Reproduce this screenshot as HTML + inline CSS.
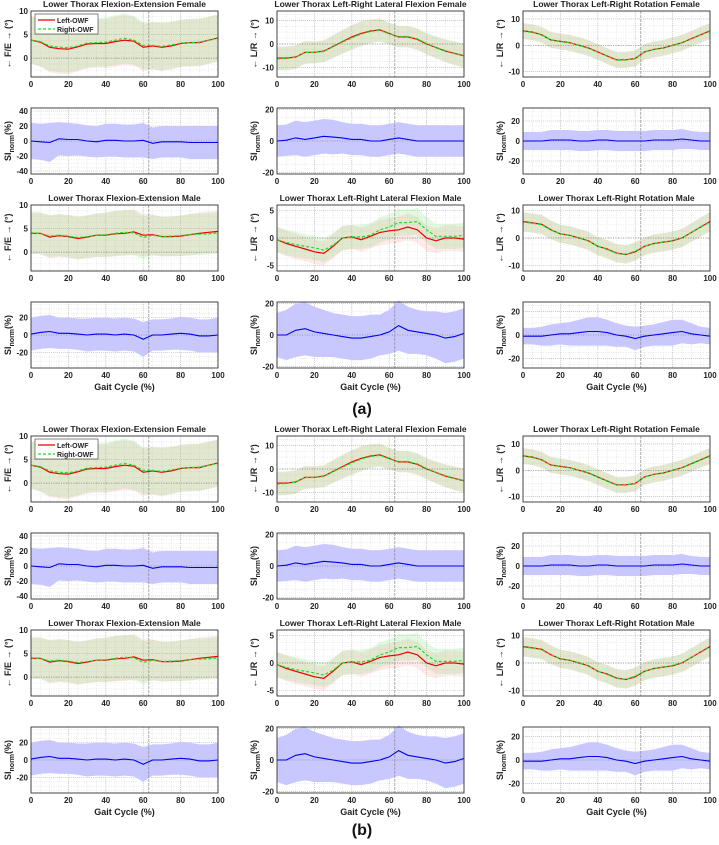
<!DOCTYPE html>
<html><head><meta charset="utf-8"><style>
body{margin:0;background:#fff;}
svg{display:block;font-family:"Liberation Sans",Arial,sans-serif;}
</style></head><body>
<svg id="fig" width="719" height="845" viewBox="0 0 719 845"></svg>
<script>
// x samples (gait cycle %)
const gait = [0,5,10,15,20,25,30,35,40,45,50,55,60,65,70,75,80,85,90,95,100];
// Row 1 (Female angles)
const feFemaleLeft  = [3.8,3.4,2.3,2.0,1.9,2.4,3.0,3.1,3.1,3.5,3.8,3.6,2.3,2.6,2.3,2.6,3.1,3.3,3.3,3.8,4.3];
const feFemaleRight = [3.8,3.5,2.6,2.3,2.2,2.6,3.2,3.3,3.4,3.8,4.2,3.8,2.7,2.7,2.5,2.8,3.2,3.3,3.4,3.8,4.2];
const feFemaleSd    = [5.0,5.2,5.3,5.3,5.3,5.2,5.2,5.1,5.2,5.3,5.3,5.2,5.0,5.0,5.1,5.0,5.0,5.0,5.0,5.0,5.0];
const lrFemaleLeft  = [-6,-6,-5.5,-3.5,-3.5,-3,-1,1,3,4.5,5.5,6,4.5,3,3,2,0,-1.5,-3,-4,-5];
const lrFemaleRight = [-6.3,-6.2,-5.6,-3.6,-3.6,-3.2,-1.2,0.8,2.6,4.2,5.3,5.8,4.3,3.2,3.2,2.2,0.2,-1.4,-2.8,-3.9,-4.9];
const lrFemaleSd    = [5,5,5,4.8,4.6,4.6,4.8,5,5.2,5.2,5,4.8,4.6,4.5,4.5,4.5,4.5,4.6,4.8,5,5];
const rotFemaleLeft  = [5.5,5,4,2,1.5,1,0,-1,-2.5,-4,-5.5,-5.5,-5,-2.5,-1.5,-1,0,1,2.5,4,5.5];
const rotFemaleRight = [5.3,4.9,3.9,2,1.4,0.9,0,-1.1,-2.6,-4.1,-5.6,-5.6,-4.9,-2.5,-1.6,-1,0,1,2.4,3.9,5.3];
const rotFemaleSd    = [3,3,3,3,3,3,3,3,3,3,3,3,3,3,3,3,3,3,3,3,3];
// Row 2 (Female SI)
const siFeFemale  = [0,-1,-2,3,2,2,0,-1,1,1,0,0,1,-3,-1,-1,-1,-2,-2,-2,-2];
const siFeFemaleSd = [24,24,26,22,22,21,21,21,22,22,22,22,23,21,21,21,21,22,22,22,22];
const siLrFemale  = [0,0.5,2,1,2,3,2.5,2,1,1,0,0,1,2,1,0,0,0,0,0,0];
const siLrFemaleSd = [10,10,11,11,11,11,11,10,10,10,10,10,10,10,10,10,10,10,10,10,10];
const siRotFemale  = [0,0,0,1,1,1,0,0,1,1,0,0,0,0,1,1,1,2,1,0,0];
const siRotFemaleSd = [9,9,9,10,10,10,10,10,10,10,10,10,10,10,10,10,10,10,9,9,9];
// Row 3 (Male angles)
const feMaleLeft  = [4,4,3.2,3.5,3.3,2.9,3.2,3.6,3.6,3.9,4.0,4.3,3.6,3.7,3.3,3.3,3.4,3.7,4.0,4.2,4.4];
const feMaleRight = [4.1,4,3.4,3.6,3.4,3.1,3.3,3.6,3.7,4.0,4.2,4.1,3.1,3.6,3.3,3.4,3.5,3.7,3.8,3.9,4.1];
const feMaleSd    = [4.4,4.4,4.5,4.5,4.5,4.5,4.5,4.6,4.7,4.8,4.8,4.8,4.5,4.3,4.2,4.2,4.3,4.4,4.4,4.4,4.4];
const lrMaleLeft  = [-0.3,-1,-1.5,-2,-2.5,-2.8,-1.5,0,0.2,-0.3,0.3,1,1.3,1.5,2,1.5,0,-0.5,0,0,-0.2];
const lrMaleRight = [-0.3,-0.8,-1.2,-1.5,-1.8,-2.2,-1.3,0,0.2,0.2,0.5,1.5,2,2.8,2.8,3,1.5,0.3,0.3,0.3,0.5];
const lrMaleSd    = [2.3,2.3,2.3,2.2,2.2,2.2,2.2,2.2,2.2,2.2,2.2,2.3,2.3,2.4,2.4,2.4,2.3,2.3,2.3,2.3,2.3];
const rotMaleLeft  = [6,5.5,5,3,1.5,1,0,-1,-3,-4,-5.5,-6,-5,-3,-2,-1.5,-1,0,2,4,6];
const rotMaleRight = [5.8,5.4,4.8,2.9,1.5,1,0,-1.1,-3,-4.1,-5.6,-6,-4.8,-3,-2,-1.5,-0.9,0.1,2,3.9,5.8];
const rotMaleSd    = [3.5,3.5,3.5,3.4,3.3,3.3,3.3,3.3,3.3,3.3,3.3,3.3,3.3,3.3,3.3,3.3,3.3,3.3,3.4,3.5,3.5];
// Row 4 (Male SI)
const siFeMale  = [1,3,4,2,2,1,0,1,1,0,1,0,-5,0,0,1,2,1,-1,-1,0];
const siFeMaleSd = [19,19,19,18,18,18,19,19,19,19,19,19,20,18,18,18,19,19,19,19,20];
const siLrMale  = [0,0,3,4,2,1,0,-1,-2,-2,-1,0,2,6,3,2,1,0,-2,-1,1];
const siLrMaleSd = [14,16,17,17,16,15,14,14,14,14,14,13,14,16,15,14,14,15,16,16,16];
const siRotMale  = [-1,-1,-1,0,1,1,2,3,3,2,0,-1,-3,-1,0,1,2,3,1,0,-1];
const siRotMaleSd = [7,7,8,9,9,10,11,12,12,11,10,9,10,9,9,10,11,10,9,7,7];
// Axis tick labels
const xTicks = [0,20,40,60,80,100];
const titles = ["Lower Thorax Flexion-Extension Female","Lower Thorax Left-Right Lateral Flexion Female","Lower Thorax Left-Right Rotation Female","Lower Thorax Flexion-Extension Male","Lower Thorax Left-Right Lateral Flexion Male","Lower Thorax Left-Right Rotation Male"];
const panelLabels = ["(a)","(b)"];

const NS = "http://www.w3.org/2000/svg";
const svg = document.getElementById("fig");
function mk(tag, attrs, parent){const e=document.createElementNS(NS,tag);for(const k in attrs)e.setAttribute(k,attrs[k]);(parent||svg).appendChild(e);return e;}

const colX=[31,277,523], W=187, H=66;
const rowY=[11,108,205,302], panelOff=[0,425];

const plots = [
 {row:0,col:0,type:"ang",L:feFemaleLeft,R:feFemaleRight,sd:feFemaleSd,ylim:[-4,10],yt:[0,5,10],ylab:"F/E",title:titles[0],legend:true},
 {row:0,col:1,type:"ang",L:lrFemaleLeft,R:lrFemaleRight,sd:lrFemaleSd,ylim:[-14,14],yt:[-10,0,10],ylab:"L/R",title:titles[1]},
 {row:0,col:2,type:"ang",L:rotFemaleLeft,R:rotFemaleRight,sd:rotFemaleSd,ylim:[-12,13],yt:[-10,0,10],ylab:"L/R",title:titles[2]},
 {row:1,col:0,type:"si",M:siFeFemale,sd:siFeFemaleSd,ylim:[-44,44],yt:[-40,-20,0,20,40]},
 {row:1,col:1,type:"si",M:siLrFemale,sd:siLrFemaleSd,ylim:[-21,21],yt:[-20,0,20]},
 {row:1,col:2,type:"si",M:siRotFemale,sd:siRotFemaleSd,ylim:[-33,33],yt:[-20,0,20]},
 {row:2,col:0,type:"ang",L:feMaleLeft,R:feMaleRight,sd:feMaleSd,ylim:[-4,10],yt:[0,5,10],ylab:"F/E",title:titles[3]},
 {row:2,col:1,type:"ang",L:lrMaleLeft,R:lrMaleRight,sd:lrMaleSd,ylim:[-6,6],yt:[-5,0,5],ylab:"L/R",title:titles[4]},
 {row:2,col:2,type:"ang",L:rotMaleLeft,R:rotMaleRight,sd:rotMaleSd,ylim:[-12,12],yt:[-10,0,10],ylab:"L/R",title:titles[5]},
 {row:3,col:0,type:"si",M:siFeMale,sd:siFeMaleSd,ylim:[-38,38],yt:[-20,0,20]},
 {row:3,col:1,type:"si",M:siLrMale,sd:siLrMaleSd,ylim:[-21,21],yt:[-20,0,20]},
 {row:3,col:2,type:"si",M:siRotMale,sd:siRotMaleSd,ylim:[-28,28],yt:[-20,0,20]},
];

function line(xs,ys,sx,sy){return xs.map((x,i)=>(i?"L":"M")+sx(x).toFixed(1)+","+sy(ys[i]).toFixed(1)).join("");}
function band(xs,m,s,sx,sy){let d=xs.map((x,i)=>(i?"L":"M")+sx(x).toFixed(1)+","+sy(m[i]+s[i]).toFixed(1)).join("");for(let i=xs.length-1;i>=0;i--)d+="L"+sx(xs[i]).toFixed(1)+","+sy(m[i]-s[i]).toFixed(1);return d+"Z";}

panelOff.forEach((off,pi)=>{
 const pg=mk("g",{});
 
 
 plots.forEach((p,k)=>{
  const x0=colX[p.col], y0=rowY[p.row]+off;
  const sx=v=>x0+v/100*W;
  const sy=v=>y0+H-(v-p.ylim[0])/(p.ylim[1]-p.ylim[0])*H;
  const g=mk("g",{},pg);
  
  
  mk("rect",{x:x0,y:y0,width:W,height:H,fill:"#fff"},g);
  for(let v=0;v<=100;v+=5){mk("line",{x1:sx(v),x2:sx(v),y1:y0,y2:y0+H,stroke:"#ddd","stroke-width":0.6,"stroke-dasharray":"1,1.5"},g);}
  const step=(p.yt[1]-p.yt[0])/4;
  for(let v=Math.ceil(p.ylim[0]/step)*step;v<=p.ylim[1];v+=step){mk("line",{x1:x0,x2:x0+W,y1:sy(v),y2:sy(v),stroke:"#ddd","stroke-width":0.6,"stroke-dasharray":"1,1.5"},g);}
  xTicks.forEach(v=>mk("line",{x1:sx(v),x2:sx(v),y1:y0,y2:y0+H,stroke:"#bbb","stroke-width":0.6,"stroke-dasharray":"1,1"},g));
  p.yt.forEach(v=>mk("line",{x1:x0,x2:x0+W,y1:sy(v),y2:sy(v),stroke:"#bbb","stroke-width":0.6,"stroke-dasharray":"1,1"},g));
  if(p.type==="ang"){
   const bl=mk("path",{d:band(gait,p.L,p.sd,sx,sy),fill:"#ff9090","fill-opacity":0.2},g);
   
   
   const br=mk("path",{d:band(gait,p.R,p.sd,sx,sy),fill:"#70e070","fill-opacity":0.2},g);
   
   
  } else {
   const bs=mk("path",{d:band(gait,p.M,p.sd,sx,sy),fill:"#c8c8ff"},g);
   
   
  }
  mk("line",{x1:x0,x2:x0+W,y1:sy(0),y2:sy(0),stroke:"#888","stroke-width":0.7,"stroke-dasharray":"1,1.5"},g);
  mk("line",{x1:sx(63),x2:sx(63),y1:y0,y2:y0+H,stroke:"#888","stroke-width":0.7,"stroke-dasharray":"3,1"},g);
  if(p.type==="ang"){
   const l=mk("path",{d:line(gait,p.L,sx,sy),fill:"none",stroke:"#ee0000","stroke-width":1.2},g);
   
   
   const r=mk("path",{d:line(gait,p.R,sx,sy),fill:"none",stroke:"#22dd22","stroke-width":1.2,"stroke-dasharray":"3,2"},g);
   
   
  } else {
   const m=mk("path",{d:line(gait,p.M,sx,sy),fill:"none",stroke:"#0000ee","stroke-width":1.1},g);
   
   
  }
  mk("rect",{x:x0,y:y0,width:W,height:H,fill:"none",stroke:"#333","stroke-width":0.9},g);
  xTicks.forEach(v=>{const t=mk("text",{x:sx(v),y:y0+H+10,"font-size":8,"font-weight":"bold","text-anchor":"middle",fill:"#222"},g);t.textContent=v;
   });
  p.yt.forEach(v=>{const t=mk("text",{x:x0-3,y:sy(v)+3,"font-size":8,"font-weight":"bold","text-anchor":"end",fill:"#222"},g);t.textContent=v;
   });
  const cy=y0+H/2, lx=x0-20;
  const yl=mk("text",{x:lx,y:cy,"font-size":9,"font-weight":"bold","text-anchor":"middle",fill:"#222",transform:`rotate(-90 ${lx} ${cy})`},g);
  if(p.type==="ang"){yl.textContent="\u2190 "+p.ylab+" \u2192 (\u00b0)";}
  else{yl.textContent="SI";const ts=mk("tspan",{"font-size":7,dy:3},yl);ts.textContent="norm";const ts2=mk("tspan",{dy:-3},yl);ts2.textContent="(%)";}
  
  
  if(p.title){const t=mk("text",{x:x0+W/2,y:y0-4,"font-size":8.5,"font-weight":"bold","text-anchor":"middle",fill:"#222"},g);t.textContent=p.title;
   }
  if(p.row===3){const t=mk("text",{x:x0+W/2,y:y0+H+22,"font-size":9,"font-weight":"bold","text-anchor":"middle",fill:"#222"},g);t.textContent="Gait Cycle (%)";
   }
  if(p.legend){
   const lg=mk("g",{},g);
   
   
   mk("rect",{x:x0+4,y:y0+3,width:63,height:20,fill:"#fff",stroke:"#333","stroke-width":0.6},lg);
   mk("line",{x1:x0+7,x2:x0+24,y1:y0+9,y2:y0+9,stroke:"#ee0000","stroke-width":1.2},lg);
   mk("line",{x1:x0+7,x2:x0+24,y1:y0+18,y2:y0+18,stroke:"#22dd22","stroke-width":1.2,"stroke-dasharray":"3,2"},lg);
   const a=mk("text",{x:x0+26,y:y0+12,"font-size":7,"font-weight":"bold",fill:"#222"},lg);a.textContent="Left-OWF";
   
   const b=mk("text",{x:x0+26,y:y0+21,"font-size":7,"font-weight":"bold",fill:"#222"},lg);b.textContent="Right-OWF";
   
  }
 });
 const pl=mk("text",{x:362,y:414+off*0.99,"font-size":16,"font-weight":"bold","text-anchor":"middle",fill:"#111"},pg);
 pl.textContent=panelLabels[pi];
 
 
});
</script>
</body></html>
